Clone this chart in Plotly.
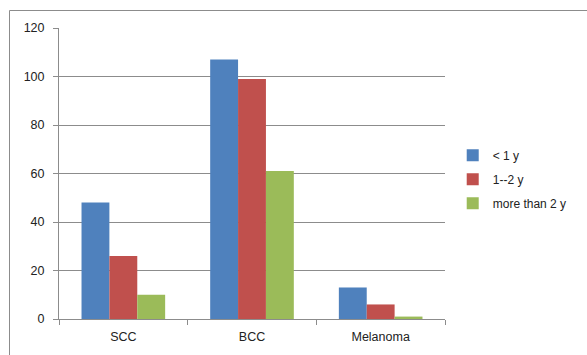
import plotly.graph_objects as go

categories = ["SCC", "BCC", "Melanoma"]
less_than_1y = [48, 107, 13]
one_to_2y = [26, 99, 6]
more_than_2y = [10, 61, 1]

series = [
    ("< 1 y", less_than_1y, "#4F81BD"),
    ("1--2 y", one_to_2y, "#C0504D"),
    ("more than 2 y", more_than_2y, "#9BBB59"),
]

fig = go.Figure()
for name, vals, color in series:
    fig.add_trace(go.Bar(
        x=categories, y=vals, name=name, legendgroup=name,
        marker=dict(color=color, line=dict(width=0)),
    ))

W, H = 587, 355
L, R, T, B = 59, 142, 28, 36

fig.update_layout(
    width=W, height=H,
    margin=dict(l=L, r=R, t=T, b=B, autoexpand=False),
    paper_bgcolor="white", plot_bgcolor="white",
    barmode="group", bargap=0.35, bargroupgap=0,
    font=dict(family="Liberation Sans, Arial, sans-serif", size=12, color="#222"),
    legend=dict(
        x=1.02, y=0.48, xanchor="left", yanchor="middle",
        font=dict(size=12), itemwidth=30, tracegroupgap=5,
        bgcolor="rgba(0,0,0,0)",
    ),
    xaxis=dict(
        showline=True, linecolor="#8c8c8c", linewidth=1,
        ticks="outside", tickson="boundaries", ticklen=5, tickcolor="#8c8c8c",
        showgrid=False, tickfont=dict(size=12.5), ticklabelstandoff=6,
    ),
    yaxis=dict(
        range=[0, 120], dtick=20,
        showline=True, linecolor="#8c8c8c", linewidth=1,
        ticks="outside", ticklen=5, tickcolor="#8c8c8c",
        showgrid=True, gridcolor="#8c8c8c", gridwidth=1,
        zeroline=False, tickfont=dict(size=12.5), ticklabelstandoff=6,
    ),
    shapes=[dict(
        type="rect", xref="paper", yref="paper",
        x0=(9.5 - L) / (W - L - R), x1=(W + 20 - L) / (W - L - R),
        y0=-(B + 20) / (H - T - B), y1=1 + (T - 10.5) / (H - T - B),
        line=dict(color="#8c8c8c", width=1), layer="below",
    )],
)

fig.write_html("out.html")
